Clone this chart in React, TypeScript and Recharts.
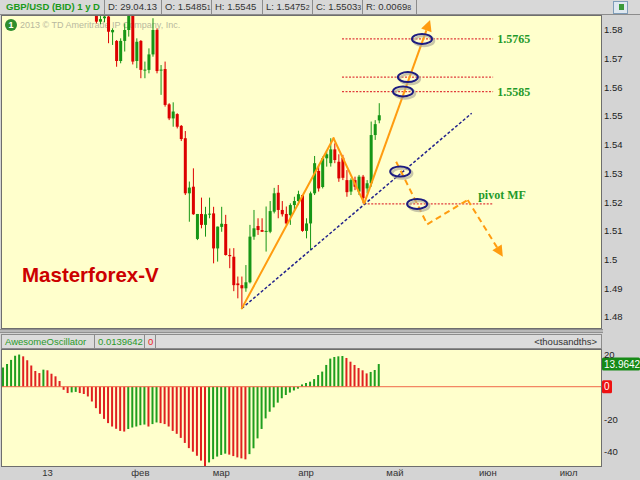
import React from "react";
import { ComposedChart, Bar, XAxis, YAxis, ReferenceLine, ReferenceDot, Cell } from "recharts";

// first candle that shows inside the price window (earlier days sit above 1.585)
const FIRST_CANDLE = 23;

const opens = [
  1.589, 1.5829, 1.5841, 1.5847, 1.5792, 1.5762, 1.5692, 1.5762, 1.58, 1.59,
  1.5692, 1.5762, 1.5659, 1.5661, 1.5715, 1.58, 1.5659, 1.5664, 1.5541, 1.5492,
  1.5507, 1.5466, 1.5423, 1.5231, 1.5254, 1.5072, 1.5159, 1.5121, 1.5157, 1.5161,
  1.5039, 1.5114, 1.5124, 1.5016, 1.501, 1.4917, 1.4911, 1.49, 1.4921, 1.508,
  1.5117, 1.5103, 1.5097, 1.5097, 1.5167, 1.5233, 1.5173, 1.5159, 1.5155, 1.519,
  1.5204, 1.5225, 1.51, 1.5126, 1.5231, 1.5309, 1.5253, 1.5353, 1.5336, 1.5384,
  1.5341, 1.5355, 1.5277, 1.5237, 1.5277, 1.5237, 1.5289, 1.5248, 1.5266, 1.5434,
  1.5485,
];
const highs = [
  1.59, 1.587, 1.587, 1.586, 1.5806, 1.5765, 1.5771, 1.5823, 1.59, 1.592,
  1.5771, 1.5765, 1.569, 1.5736, 1.5841, 1.5806, 1.5678, 1.569, 1.5545, 1.5548,
  1.551, 1.5469, 1.5448, 1.5272, 1.5318, 1.5159, 1.5216, 1.5184, 1.5216, 1.5184,
  1.5115, 1.5184, 1.5156, 1.5039, 1.504, 1.4941, 1.4941, 1.4981, 1.5121, 1.5173,
  1.5144, 1.5144, 1.5185, 1.5204, 1.525, 1.526, 1.5204, 1.5185, 1.5196, 1.5219,
  1.524, 1.5225, 1.5144, 1.5237, 1.5361, 1.533, 1.5359, 1.5376, 1.5423, 1.5405,
  1.5367, 1.5365, 1.5312, 1.5283, 1.5289, 1.5295, 1.5295, 1.5277, 1.5481, 1.5486,
  1.5545,
];
const lows = [
  1.5823, 1.582, 1.5827, 1.5754, 1.5748, 1.5672, 1.5684, 1.5725, 1.5777, 1.568,
  1.5667, 1.5632, 1.5632, 1.5649, 1.5707, 1.5649, 1.5574, 1.5533, 1.5486, 1.5463,
  1.5457, 1.5413, 1.5225, 1.5132, 1.5156, 1.5068, 1.5109, 1.508, 1.5144, 1.4987,
  1.4993, 1.5097, 1.5014, 1.497, 1.489, 1.4865, 1.483, 1.4888, 1.4917, 1.5069,
  1.5086, 1.5097, 1.5028, 1.5092, 1.5161, 1.5144, 1.515, 1.5121, 1.5121, 1.5167,
  1.519, 1.5097, 1.5074, 1.5033, 1.5225, 1.5237, 1.5248, 1.5324, 1.5324, 1.5336,
  1.5271, 1.5277, 1.5219, 1.5225, 1.5242, 1.5225, 1.5196, 1.5231, 1.5254, 1.5417,
  1.5475,
];
const closes = [
  1.5829, 1.5838, 1.5847, 1.5794, 1.58, 1.5692, 1.5762, 1.58, 1.588, 1.569,
  1.5759, 1.5661, 1.5662, 1.5715, 1.58, 1.5657, 1.5662, 1.5539, 1.5492, 1.5516,
  1.5463, 1.542, 1.5231, 1.5251, 1.5158, 1.5159, 1.5121, 1.5158, 1.516, 1.5039,
  1.5115, 1.5125, 1.5016, 1.5012, 1.4911, 1.4911, 1.49, 1.4921, 1.508, 1.5109,
  1.5103, 1.5097, 1.51, 1.5169, 1.5231, 1.5173, 1.5158, 1.5126, 1.519, 1.5204,
  1.5228, 1.51, 1.5126, 1.5231, 1.5336, 1.5248, 1.5353, 1.5367, 1.5384, 1.5347,
  1.5283, 1.5285, 1.5235, 1.5277, 1.5254, 1.5289, 1.5214, 1.5266, 1.5434, 1.5472,
  1.5503,
];

// Awesome Oscillator, thousandths, from 17 Dec 2012
const aoValues = [
  11.9, 14.0, 16.5, 19.1, 19.8, 18.7, 16.3, 13.0, 9.7, 8.4,
  10.5, 10.1, 8.0, 6.4, 3.5, -1.9, -3.9, -3.5, -3.2, -3.9,
  -4.5, -6.0, -9.1, -13.2, -16.7, -19.8, -22.4, -24.5, -25.9, -27.2,
  -27.6, -26.1, -25.1, -24.5, -23.7, -23.3, -24.5, -23.0, -22.0, -22.4,
  -23.0, -24.5, -27.2, -29.0, -31.5, -34.6, -37.8, -40.0, -42.5, -45.5,
  -49.0, -46.6, -44.6, -43.0, -42.0, -41.2, -41.8, -42.7, -43.5, -44.1,
  -44.7, -41.5, -37.9, -31.8, -26.0, -19.5, -15.4, -12.7, -9.8, -7.1,
  -5.1, -3.6, -2.3, -1.2, 1.4, 2.3, 3.1, 4.7, 7.2, 9.3,
  13.4, 17.3, 18.3, 18.7, 18.9, 17.7, 15.4, 13.4, 11.5, 10.1,
  8.2, 9.1, 10.3, 13.9642,
];

const monthTicks = [11, 34, 54, 75, 97, 120, 140];
const monthLabels = ["13", "фев", "мар", "апр", "май", "июн", "июл"];
const priceTicks = [1.58, 1.57, 1.56, 1.55, 1.54, 1.53, 1.52, 1.51, 1.5, 1.49, 1.48];
const aoTicks = [20, -20, -40];

// drawing on the chart (bar index, price)
const wavePath = [[59.1, 1.483], [81.8, 1.5423], [89.4, 1.5196], [105.7, 1.5835]];
const altPath = [[97.3, 1.5341], [105.0, 1.5123], [115.0, 1.5208], [123.7, 1.501]];
const trendLine = [[59.1, 1.483], [116, 1.551]];
const levels = [
  { y: 1.5769, from: 83.9, to: 121.3 },
  { y: 1.5636, from: 83.9, to: 121.3 },
  { y: 1.5585, from: 83.9, to: 121.3 },
  { y: 1.5194, from: 89.4, to: 121.3 },
];
const rings = [[103.7, 1.5769], [100.2, 1.5636], [99.0, 1.5586], [98.3, 1.5307], [102.5, 1.5194]];
const tags = [
  { text: "1.5765", x: 122.3, y: 1.5769 },
  { text: "1.5585", x: 122.3, y: 1.5585 },
  { text: "pivot MF", x: 117.6, y: 1.5225 },
];

const X_DOMAIN = [-0.25, 148];
const UP = "#169616";
const DOWN = "#dd0000";
const ORANGE = "#ff9c10";
const FONT = "'Liberation Sans', Arial, sans-serif";

const candles = opens.map((o, k) => ({ i: FIRST_CANDLE + k, o, h: highs[k], l: lows[k], c: closes[k] }));
const aoData = aoValues.map((v, i) => ({ i, v, up: i === 0 || v >= aoValues[i - 1] }));

function Candle(props: any) {
  const { x, y, width, height, payload } = props;
  const top = Math.min(y, y + height);
  const span = Math.abs(height);
  const range = payload.h - payload.l || 1;
  const toY = (v: number) => top + ((payload.h - v) / range) * span;
  const color = payload.c >= payload.o ? UP : DOWN;
  const bodyTop = toY(Math.max(payload.o, payload.c));
  const bodyBot = toY(Math.min(payload.o, payload.c));
  const mid = x + width / 2;
  return (
    <g>
      <line x1={mid} x2={mid} y1={top} y2={top + span} stroke={color} strokeWidth={1} />
      <rect x={x} y={bodyTop} width={width} height={Math.max(1, bodyBot - bodyTop)} fill={color} />
    </g>
  );
}

// segment with a filled arrow head at its end
const arrowShape = (color: string, dash?: string) => (p: any) => {
  const { x1, y1, x2, y2 } = p;
  const a = Math.atan2(y2 - y1, x2 - x1);
  const bx = x2 - 11 * Math.cos(a);
  const by = y2 - 11 * Math.sin(a);
  const w = 5.5;
  const pts = `${x2},${y2} ${bx + w * Math.sin(a)},${by - w * Math.cos(a)} ${bx - w * Math.sin(a)},${by + w * Math.cos(a)}`;
  return (
    <g>
      <line x1={x1} y1={y1} x2={bx} y2={by} stroke={color} strokeWidth={2} strokeDasharray={dash} />
      <polygon points={pts} fill={color} />
    </g>
  );
};

const Ring = (p: any) => (
  <g>
    <ellipse cx={p.cx + 2} cy={p.cy + 2} rx={10} ry={5} fill="none" stroke="#b0ae98" strokeOpacity={0.7} strokeWidth={2.5} />
    <ellipse cx={p.cx} cy={p.cy} rx={10} ry={5} fill="none" stroke="#1c1c80" strokeWidth={2} />
  </g>
);

const tagShape = (text: string) => (p: any) => (
  <text x={p.cx} y={p.cy} dominantBaseline="central" fontFamily="'Liberation Serif', 'Times New Roman', serif" fontWeight="bold" fontSize={12} fill="#1f9a2a">
    {text}
  </text>
);

const valueBox = (text: string, bg: string, w: number) => (props: any) => {
  const vb = props.viewBox;
  const x = vb.x + vb.width + 1;
  return (
    <g>
      <rect x={x} y={vb.y - 6.5} width={w} height={13} rx={1.5} fill={bg} />
      <text x={x + 2} y={vb.y} dominantBaseline="central" fontFamily={FONT} fontSize={10} fill="#fff">
        {text}
      </text>
    </g>
  );
};

const cell = (left: number, width: number): React.CSSProperties => ({
  position: "absolute",
  left,
  width,
  top: 0,
  height: 14,
  borderRight: "1px solid #8c8c8c",
  boxSizing: "border-box",
  paddingLeft: 3,
  lineHeight: "14px",
  whiteSpace: "nowrap",
  color: "#333",
});
const sub = { fontSize: 7 };

export default function App() {
  const wave = wavePath.slice(1).map((pt, k) => [wavePath[k], pt]);
  const alt = altPath.slice(1).map((pt, k) => [altPath[k], pt]);
  return (
    <div style={{ position: "absolute", left: 0, top: 0, width: 640, height: 480, background: "#d4d4d4", overflow: "hidden", fontFamily: FONT, fontSize: 9.5 }}>
      {/* header */}
      <div style={{ position: "absolute", left: 0, top: 0, width: 640, height: 15, borderBottom: "1px solid #8c8c8c", boxSizing: "border-box", background: "#d8d8d8" }}>
        <div style={{ ...cell(0, 105), color: "#1a9a1a", fontWeight: "bold", paddingLeft: 6 }}>GBP/USD (BID) 1 y D</div>
        <div style={cell(105, 57)}>D: 29.04.13</div>
        <div style={cell(162, 50)}>O: 1.5485<span style={sub}>1</span></div>
        <div style={cell(212, 51)}>H: 1.5545</div>
        <div style={cell(263, 50)}>L: 1.5475<span style={sub}>2</span></div>
        <div style={cell(313, 50)}>C: 1.5503<span style={sub}>3</span></div>
        <div style={cell(363, 54)}>R: 0.0069<span style={sub}>8</span></div>
        <div style={{ position: "absolute", left: 613, top: 1, width: 13, height: 11, border: "1px solid #7f9db9", background: "#dfe8f0" }}>
          <div style={{ position: "absolute", left: 5, top: 2, width: 5, height: 6, background: "#3a9a3a" }} />
        </div>
      </div>

      {/* price panel */}
      <div style={{ position: "absolute", left: 1, top: 15, width: 601, height: 314, background: "#ffffcc", border: "1px solid #6e6e6e", boxSizing: "border-box" }} />
      <div style={{ position: "absolute", left: 5, top: 19, width: 12, height: 12, borderRadius: 6, background: "#2e8f2e", color: "#fff", fontSize: 9, fontWeight: "bold", textAlign: "center", lineHeight: "12px" }}>1</div>
      <div style={{ position: "absolute", left: 20, top: 19, fontSize: 9, lineHeight: "12px", color: "#b8b89e", whiteSpace: "nowrap" }}>2013 © TD Ameritrade IP Company, Inc.</div>
      <div style={{ position: "absolute", left: 0, top: 15 }}>
        <ComposedChart width={640} height={313} data={candles} margin={{ top: 1, right: 0, left: 2, bottom: 0 }}>
          <XAxis type="number" dataKey="i" domain={X_DOMAIN} allowDataOverflow hide />
          <YAxis
            orientation="right"
            width={39}
            domain={[1.47617, 1.58488]}
            ticks={priceTicks}
            interval={0}
            allowDataOverflow
            tickLine={false}
            axisLine={false}
            tickSize={0}
            tickMargin={3}
            tick={{ fontSize: 9.5, fill: "#222", fontFamily: FONT }}
            tickFormatter={(v: number) => String(parseFloat(v.toFixed(2)))}
          />
          <Bar dataKey={(d: any) => [d.l, d.h]} barSize={3} shape={Candle} isAnimationActive={false} />
          {levels.map((lv, k) => (
            <ReferenceLine key={"lv" + k} segment={[{ x: lv.from, y: lv.y }, { x: lv.to, y: lv.y }]} stroke="#e03c3c" strokeWidth={1.2} strokeDasharray="2 1.5" />
          ))}
          <ReferenceLine
            segment={[{ x: trendLine[0][0], y: trendLine[0][1] }, { x: trendLine[1][0], y: trendLine[1][1] }]}
            stroke="#22228c"
            strokeWidth={1.5}
            strokeDasharray="3 2"
          />
          {wave.map(([a, b], k) => (
            <ReferenceLine
              key={"w" + k}
              segment={[{ x: a[0], y: a[1] }, { x: b[0], y: b[1] }]}
              stroke={ORANGE}
              strokeWidth={2}
              strokeLinecap="round"
              shape={k === wave.length - 1 ? arrowShape(ORANGE) : undefined}
            />
          ))}
          {alt.map(([a, b], k) => (
            <ReferenceLine
              key={"a" + k}
              segment={[{ x: a[0], y: a[1] }, { x: b[0], y: b[1] }]}
              stroke={ORANGE}
              strokeWidth={2}
              strokeDasharray="6 4"
              shape={k === alt.length - 1 ? arrowShape(ORANGE, "6 4") : undefined}
            />
          ))}
          {rings.map(([x, y], k) => (
            <ReferenceDot key={"r" + k} x={x} y={y} r={0} shape={Ring} />
          ))}
          {tags.map((t, k) => (
            <ReferenceDot key={"t" + k} x={t.x} y={t.y} r={0} shape={tagShape(t.text)} />
          ))}
        </ComposedChart>
      </div>
      <div style={{ position: "absolute", left: 22, top: 265, fontSize: 20.5, lineHeight: "20px", fontWeight: "bold", color: "#cc0000", whiteSpace: "nowrap" }}>Masterforex-V</div>

      {/* splitter */}
      <div style={{ position: "absolute", left: 0, top: 329, width: 603, height: 4, background: "#b8b8b8", borderTop: "1px solid #909090", borderBottom: "1px solid #909090", boxSizing: "border-box" }} />

      {/* oscillator header */}
      <div style={{ position: "absolute", left: 1, top: 334, width: 601, height: 15, border: "1px solid #8c8c8c", boxSizing: "border-box", background: "#dcdcdc" }}>
        <div style={{ ...cell(0, 93), color: "#2a9a2a", height: 13, lineHeight: "13px" }}>AwesomeOscillator</div>
        <div style={{ ...cell(93, 50), color: "#2a9a2a", height: 13, lineHeight: "13px" }}>0.0139642</div>
        <div style={{ ...cell(143, 11), color: "#ee2222", height: 13, lineHeight: "13px" }}>0</div>
        <div style={{ position: "absolute", right: 4, top: 0, lineHeight: "13px", color: "#333" }}>&lt;thousandths&gt;</div>
      </div>

      {/* oscillator panel */}
      <div style={{ position: "absolute", left: 1, top: 349, width: 601, height: 118, background: "#ffffcc", border: "1px solid #6e6e6e", boxSizing: "border-box" }} />
      <div style={{ position: "absolute", left: 0, top: 340 }}>
        <ComposedChart width={640} height={140} data={aoData} margin={{ top: 10, right: 0, left: 2, bottom: 0 }}>
          <XAxis
            type="number"
            dataKey="i"
            domain={X_DOMAIN}
            allowDataOverflow
            ticks={monthTicks}
            interval={0}
            height={14}
            tickLine={false}
            axisLine={false}
            tickSize={0}
            tickMargin={3}
            tick={{ fontSize: 9.5, fill: "#333", fontFamily: FONT }}
            tickFormatter={(v: number) => monthLabels[monthTicks.indexOf(v)] ?? ""}
          />
          <YAxis
            orientation="right"
            width={39}
            domain={[-48.8, 22.6]}
            ticks={aoTicks}
            interval={0}
            allowDataOverflow
            tickLine={false}
            axisLine={false}
            tickSize={0}
            tickMargin={3}
            tick={{ fontSize: 9.5, fill: "#222", fontFamily: FONT }}
          />
          <ReferenceLine y={0} stroke="#f06848" strokeWidth={1} label={valueBox("0", "#ee1111", 10)} />
          <ReferenceLine y={aoValues[aoValues.length - 1]} stroke="none" label={valueBox("13.9642", "#178a17", 38)} />
          <Bar dataKey="v" barSize={2} isAnimationActive={false}>
            {aoData.map((d) => (
              <Cell key={d.i} fill={d.up ? "#1e9e1e" : "#e02020"} />
            ))}
          </Bar>
        </ComposedChart>
      </div>
    </div>
  );
}
